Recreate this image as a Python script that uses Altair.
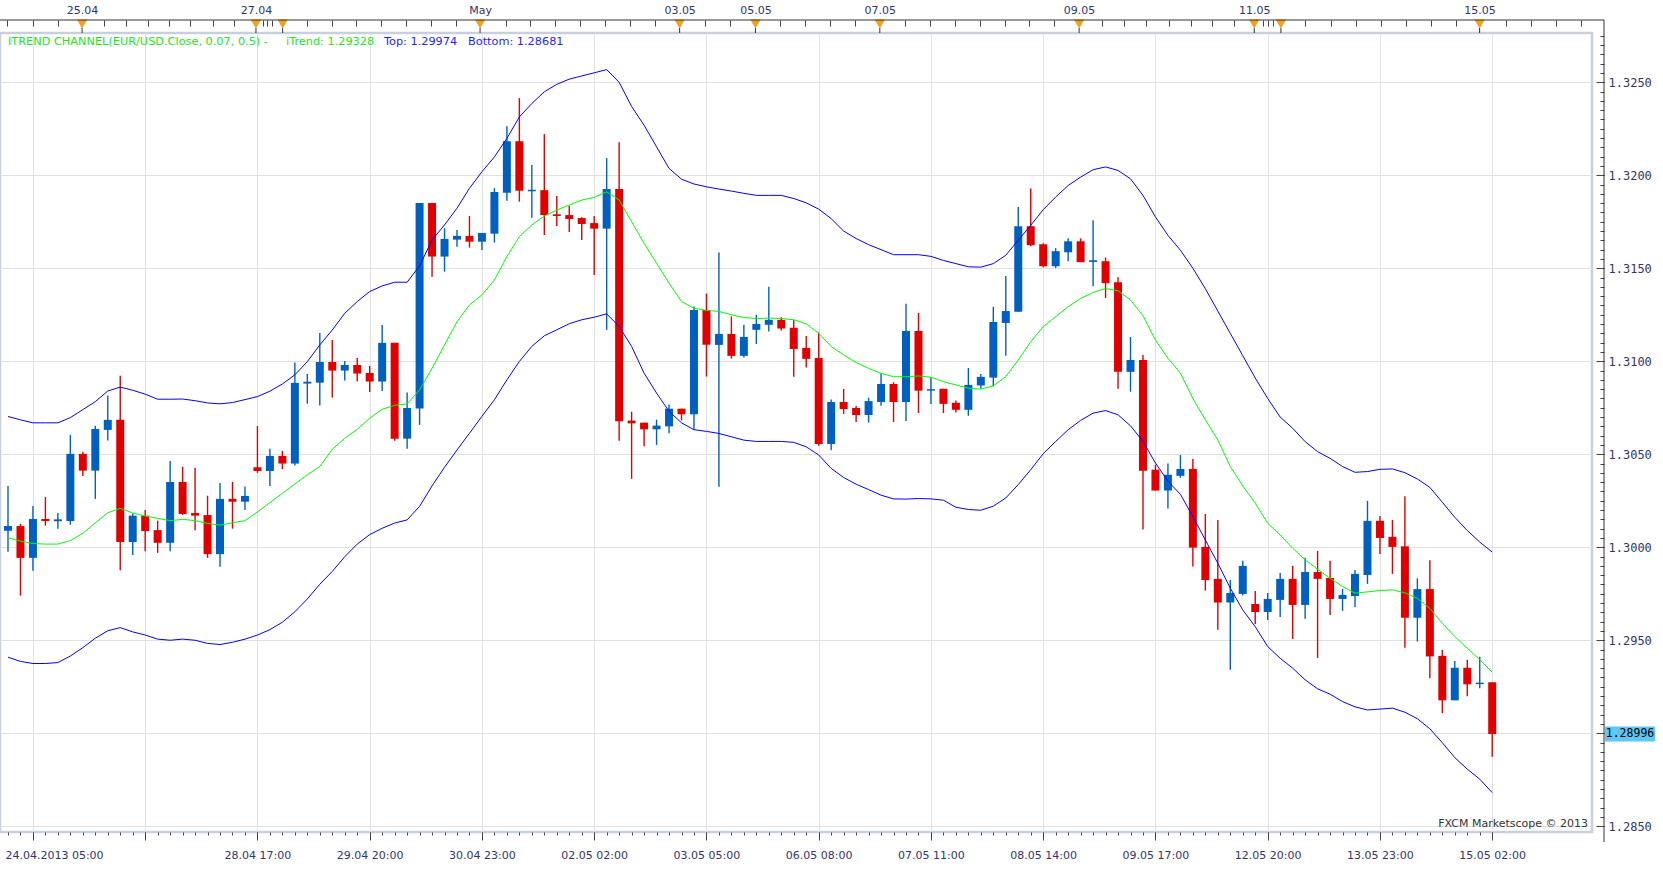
import json
import numpy as np
import pandas as pd
import altair as alt

# ---------------- data ----------------
opens = [1.30089, 1.30114, 1.29943, 1.30152, 1.30140, 1.30141, 1.30502, 1.30412, 1.30631, 1.30685,
         1.30028, 1.30170, 1.30092, 1.30024, 1.30351, 1.30184, 1.30173, 1.29963, 1.30260, 1.30245,
         1.30430, 1.30410, 1.30491, 1.30450, 1.30880, 1.30885, 1.30996, 1.30950, 1.30980, 1.30937,
         1.30891, 1.31099, 1.30584, 1.30746, 1.31851, 1.31563, 1.31654, 1.31674, 1.31643, 1.31686,
         1.31906, 1.32183, 1.31914, 1.31920, 1.31790, 1.31786, 1.31770, 1.31743, 1.31713, 1.31926,
         1.30681, 1.30670, 1.30634, 1.30650, 1.30745, 1.30715, 1.31276, 1.31088, 1.31147, 1.31029,
         1.31169, 1.31196, 1.31223, 1.31180, 1.31072, 1.31018, 1.30555, 1.30781, 1.30749, 1.30711,
         1.30781, 1.30878, 1.30781, 1.31163, 1.30842, 1.30852, 1.30777, 1.30739, 1.30870, 1.30912,
         1.31206, 1.31266, 1.31726, 1.31629, 1.31511, 1.31586, 1.31645, 1.31534, 1.31538, 1.31425,
         1.30943, 1.31007, 1.30417, 1.30305, 1.30384, 1.30421, 1.30002, 1.29830, 1.29703, 1.29749,
         1.29695, 1.29652, 1.29717, 1.29830, 1.29690, 1.29867, 1.29835, 1.29722, 1.29738, 1.29851,
         1.30142, 1.30056, 1.30005, 1.29621, 1.29775, 1.29416, 1.29177, 1.29352, 1.29264, 1.29274]
highs = [1.30329, 1.30125, 1.30222, 1.30270, 1.30184, 1.30604, 1.30513, 1.30653, 1.30816, 1.30922,
         1.30182, 1.30200, 1.30143, 1.30464, 1.30432, 1.30428, 1.30277, 1.30346, 1.30351, 1.30326,
         1.30652, 1.30529, 1.30518, 1.30993, 1.30932, 1.31152, 1.31115, 1.31002, 1.31018, 1.30975,
         1.31195, 1.31099, 1.30832, 1.31851, 1.31851, 1.31715, 1.31706, 1.31781, 1.31690, 1.31931,
         1.32264, 1.32415, 1.32055, 1.32221, 1.31888, 1.31835, 1.31775, 1.31781, 1.32092, 1.32178,
         1.30729, 1.30670, 1.30686, 1.30767, 1.30745, 1.31294, 1.31364, 1.31585, 1.31241, 1.31196,
         1.31250, 1.31400, 1.31237, 1.31223, 1.31136, 1.31154, 1.30795, 1.30851, 1.30760, 1.30804,
         1.30935, 1.30887, 1.31309, 1.31260, 1.30914, 1.30852, 1.30789, 1.30964, 1.30932, 1.31293,
         1.31458, 1.31829, 1.31929, 1.31634, 1.31608, 1.31661, 1.31661, 1.31758, 1.31558, 1.31452,
         1.31130, 1.31034, 1.30444, 1.30450, 1.30496, 1.30475, 1.30179, 1.30147, 1.29824, 1.29927,
         1.29765, 1.29754, 1.29862, 1.29900, 1.29943, 1.29980, 1.29927, 1.29776, 1.29878, 1.30249,
         1.30168, 1.30147, 1.30274, 1.29833, 1.29930, 1.29448, 1.29389, 1.29395, 1.29411, 1.29274]
lows = [1.29976, 1.29740, 1.29873, 1.30116, 1.30100, 1.30121, 1.30383, 1.30260, 1.30574, 1.29877,
        1.29958, 1.29979, 1.29970, 1.29979, 1.30173, 1.30092, 1.29943, 1.29895, 1.30100, 1.30200,
        1.30400, 1.30330, 1.30420, 1.30440, 1.30772, 1.30762, 1.30805, 1.30896, 1.30891, 1.30835,
        1.30840, 1.30573, 1.30530, 1.30658, 1.31455, 1.31482, 1.31616, 1.31611, 1.31598, 1.31638,
        1.31863, 1.31858, 1.31772, 1.31679, 1.31727, 1.31695, 1.31652, 1.31464, 1.31169, 1.30573,
        1.30368, 1.30543, 1.30550, 1.30613, 1.30682, 1.30632, 1.30918, 1.30325, 1.31014, 1.31020,
        1.31093, 1.31160, 1.31165, 1.30917, 1.30966, 1.30546, 1.30522, 1.30716, 1.30673, 1.30670,
        1.30761, 1.30673, 1.30679, 1.30722, 1.30770, 1.30722, 1.30725, 1.30707, 1.30852, 1.30864,
        1.31030, 1.31266, 1.31618, 1.31506, 1.31501, 1.31538, 1.31533, 1.31404, 1.31340, 1.30852,
        1.30836, 1.30096, 1.30305, 1.30208, 1.30373, 1.29896, 1.29767, 1.29557, 1.29342, 1.29740,
        1.29588, 1.29609, 1.29625, 1.29507, 1.29615, 1.29405, 1.29636, 1.29658, 1.29679, 1.29803,
        1.29964, 1.29857, 1.29460, 1.29493, 1.29295, 1.29108, 1.29177, 1.29199, 1.29242, 1.28873]
closes = [1.30114, 1.29943, 1.30152, 1.30141, 1.30150, 1.30502, 1.30412, 1.30636, 1.30685, 1.30028,
          1.30170, 1.30087, 1.30024, 1.30351, 1.30179, 1.30170, 1.29963, 1.30260, 1.30245, 1.30276,
          1.30410, 1.30491, 1.30450, 1.30884, 1.30890, 1.30996, 1.30950, 1.30980, 1.30934, 1.30891,
          1.31099, 1.30584, 1.30749, 1.31851, 1.31563, 1.31658, 1.31674, 1.31643, 1.31690, 1.31910,
          1.32183, 1.31917, 1.31922, 1.31786, 1.31781, 1.31765, 1.31738, 1.31713, 1.31926, 1.30677,
          1.30666, 1.30634, 1.30654, 1.30745, 1.30715, 1.31276, 1.31089, 1.31147, 1.31029, 1.31131,
          1.31201, 1.31223, 1.31176, 1.31066, 1.31013, 1.30555, 1.30781, 1.30743, 1.30711, 1.30786,
          1.30878, 1.30781, 1.31163, 1.30842, 1.30850, 1.30771, 1.30739, 1.30873, 1.30916, 1.31211,
          1.31270, 1.31726, 1.31624, 1.31511, 1.31592, 1.31645, 1.31533, 1.31543, 1.31420, 1.30943,
          1.31007, 1.30412, 1.30305, 1.30390, 1.30421, 1.29998, 1.29824, 1.29703, 1.29754, 1.29900,
          1.29652, 1.29722, 1.29830, 1.29690, 1.29867, 1.29830, 1.29722, 1.29744, 1.29857, 1.30142,
          1.30050, 1.30002, 1.29621, 1.29775, 1.29413, 1.29177, 1.29352, 1.29263, 1.29272, 1.28996]
itrend = [1.30051, 1.30033, 1.30020, 1.30017, 1.30017, 1.30036, 1.30075, 1.30131, 1.30186, 1.30209,
          1.30184, 1.30168, 1.30155, 1.30143, 1.30150, 1.30143, 1.30128, 1.30119, 1.30132, 1.30143,
          1.30190, 1.30240, 1.30290, 1.30340, 1.30390, 1.30434, 1.30527, 1.30586, 1.30634, 1.30694,
          1.30742, 1.30763, 1.30771, 1.30846, 1.30962, 1.31088, 1.31213, 1.31303, 1.31357, 1.31437,
          1.31563, 1.31670, 1.31733, 1.31781, 1.31813, 1.31840, 1.31867, 1.31881, 1.31911, 1.31867,
          1.31750, 1.31634, 1.31527, 1.31420, 1.31321, 1.31285, 1.31273, 1.31268, 1.31250, 1.31235,
          1.31230, 1.31232, 1.31230, 1.31223, 1.31201, 1.31151, 1.31079, 1.31034, 1.30993, 1.30962,
          1.30935, 1.30917, 1.30917, 1.30921, 1.30914, 1.30890, 1.30873, 1.30855, 1.30850, 1.30868,
          1.30918, 1.31007, 1.31105, 1.31186, 1.31240, 1.31293, 1.31338, 1.31370, 1.31391, 1.31379,
          1.31329, 1.31245, 1.31114, 1.31016, 1.30936, 1.30800, 1.30685, 1.30577, 1.30434, 1.30330,
          1.30237, 1.30129, 1.30066, 1.29995, 1.29932, 1.29882, 1.29833, 1.29789, 1.29753, 1.29760,
          1.29767, 1.29771, 1.29755, 1.29725, 1.29671, 1.29591, 1.29520, 1.29457, 1.29395, 1.29328]
band_top = [1.30703, 1.30685, 1.30669, 1.30669, 1.30669, 1.30697, 1.30740, 1.30783, 1.30840, 1.30861,
            1.30844, 1.30823, 1.30796, 1.30796, 1.30797, 1.30788, 1.30776, 1.30771, 1.30778, 1.30794,
            1.30810, 1.30839, 1.30878, 1.30927, 1.30998, 1.31088, 1.31168, 1.31258, 1.31321, 1.31375,
            1.31405, 1.31425, 1.31425, 1.31513, 1.31652, 1.31733, 1.31823, 1.31930, 1.32019, 1.32099,
            1.32198, 1.32314, 1.32386, 1.32449, 1.32489, 1.32517, 1.32534, 1.32551, 1.32568, 1.32500,
            1.32370, 1.32269, 1.32153, 1.32037, 1.31979, 1.31953, 1.31938, 1.31926, 1.31915, 1.31903,
            1.31892, 1.31892, 1.31892, 1.31875, 1.31852, 1.31818, 1.31767, 1.31700, 1.31660, 1.31627,
            1.31600, 1.31573, 1.31573, 1.31573, 1.31564, 1.31542, 1.31525, 1.31508, 1.31506, 1.31525,
            1.31570, 1.31651, 1.31731, 1.31815, 1.31883, 1.31945, 1.31990, 1.32030, 1.32045, 1.32026,
            1.31981, 1.31892, 1.31776, 1.31677, 1.31597, 1.31500, 1.31390, 1.31270, 1.31150, 1.31030,
            1.30910, 1.30800, 1.30700, 1.30640, 1.30568, 1.30514, 1.30478, 1.30434, 1.30403, 1.30407,
            1.30419, 1.30421, 1.30401, 1.30367, 1.30322, 1.30242, 1.30161, 1.30090, 1.30028, 1.29974]
band_bottom = [1.29409, 1.29386, 1.29375, 1.29375, 1.29380, 1.29415, 1.29460, 1.29511, 1.29551, 1.29568,
               1.29545, 1.29528, 1.29506, 1.29500, 1.29506, 1.29500, 1.29483, 1.29477, 1.29489, 1.29506,
               1.29528, 1.29557, 1.29597, 1.29653, 1.29722, 1.29801, 1.29870, 1.29949, 1.30017, 1.30068,
               1.30102, 1.30130, 1.30147, 1.30220, 1.30330, 1.30430, 1.30523, 1.30613, 1.30704, 1.30793,
               1.30900, 1.30999, 1.31080, 1.31137, 1.31169, 1.31202, 1.31223, 1.31237, 1.31255, 1.31187,
               1.31080, 1.30936, 1.30829, 1.30731, 1.30669, 1.30632, 1.30623, 1.30612, 1.30594, 1.30576,
               1.30569, 1.30569, 1.30569, 1.30564, 1.30540, 1.30496, 1.30424, 1.30375, 1.30339, 1.30310,
               1.30280, 1.30260, 1.30259, 1.30262, 1.30260, 1.30253, 1.30215, 1.30203, 1.30199, 1.30221,
               1.30265, 1.30337, 1.30417, 1.30503, 1.30569, 1.30632, 1.30682, 1.30721, 1.30735, 1.30712,
               1.30653, 1.30569, 1.30453, 1.30355, 1.30285, 1.30165, 1.30039, 1.29914, 1.29780, 1.29663,
               1.29573, 1.29466, 1.29403, 1.29350, 1.29287, 1.29239, 1.29210, 1.29170, 1.29142, 1.29125,
               1.29130, 1.29135, 1.29113, 1.29078, 1.29024, 1.28949, 1.28869, 1.28807, 1.28753, 1.28681]

# bottom (time) axis: candle index of each gridline and its label
bottom_tick_idx = [2, 11, 20, 29, 38, 47, 56, 65, 74, 83, 92, 101, 110, 119]
bottom_tick_labels = ["24.04.2013 05:00", "", "28.04 17:00", "29.04 20:00", "30.04 23:00",
                      "02.05 02:00", "03.05 05:00", "06.05 08:00", "07.05 11:00", "08.05 14:00",
                      "09.05 17:00", "12.05 20:00", "13.05 23:00", "15.05 02:00"]

# top (calendar) axis, positions in candle-index units
top_tick_idx = [-0.10, 1.98, 3.98, 5.94, 7.73, 9.48, 11.20, 12.91, 14.61, 16.41, 18.09, 19.88,
                20.48, 20.80, 21.16, 22.02, 23.95, 25.94, 27.94, 29.93, 31.92, 33.91, 35.90, 37.85,
                39.89, 41.88, 43.87, 45.87, 47.86, 49.86, 51.85, 53.85, 55.85, 57.90, 59.93, 61.90,
                63.90, 65.90, 67.90, 69.90, 71.90, 73.90, 75.90, 77.90, 79.90, 81.90, 83.90, 85.88,
                87.75, 89.51, 91.28, 93.06, 94.81, 96.53, 98.30, 99.92, 100.60, 101.03, 101.46,
                102.06, 104.03, 106.04, 108.05, 110.05, 112.06, 114.06, 116.07, 117.99, 120.08,
                122.09, 124.10, 126.10]
top_label_idx = [5.94, 19.88, 37.85, 53.85, 59.93, 69.90, 85.88, 99.92, 117.99]
top_labels = ["25.04", "27.04", "May", "03.05", "05.05", "07.05", "09.05", "11.05", "15.05"]
event_idx = [5.94, 19.88, 22.02, 37.85, 53.85, 59.93, 69.90, 85.88, 99.92, 102.06, 117.99]

price_major = [1.2850, 1.2900, 1.2950, 1.3000, 1.3050, 1.3100, 1.3150, 1.3200, 1.3250]
price_minor = [round(1.2850 + 0.0005 * k, 4) for k in range(86)]

legend_parts = ["ITREND CHANNEL(EUR/USD.Close, 0.07, 0.5) -", "iTrend: 1.29328",
                "Top: 1.29974", "Bottom: 1.28681"]
watermark = "FXCM Marketscope \u00a9 2013"
last_price = 1.28996

# ---------------- styling ----------------
FONT = "DejaVu Sans"
MONO = "DejaVu Sans Mono"
AXIS_TXT = "#33336b"
UP = "#0060C0"
DOWN = "#E00000"
GRID = "#e1e1e1"
W, H = 1592, 799
AX_X = 1604          # right axis line (px, plot coords)
TOP_AX_Y = -13       # top axis line (px, plot coords)
BOT_AX_Y = H + 10

df = pd.DataFrame(dict(i=list(range(len(opens))), open=opens, high=highs, low=lows,
                       close=closes, itrend=itrend, top=band_top, bottom=band_bottom))
df["dir"] = np.where(df["close"] > df["open"], "up", "down")

xs = alt.Scale(domain=[-0.24, 126.6], nice=False, zero=False)
ys = alt.Scale(domain=[1.28469, 1.32765], nice=False, zero=False)
col = alt.Color("dir:N", scale=alt.Scale(domain=["up", "down"], range=[UP, DOWN]), legend=None)

bottom_expr = json.dumps(bottom_tick_labels) + "[round((datum.value - 2) / 9)]"
first_test = "datum.value < 5"
bottom_axis = alt.Axis(orient="bottom", values=bottom_tick_idx, labelExpr=bottom_expr, title=None,
                       grid=True, gridColor=GRID, gridWidth=1, domain=False,
                       tickSize=8, tickColor="#444444", labelPadding=9,
                       labelFont=FONT, labelFontSize=11, labelColor=AXIS_TXT,
                       labelOverlap=False, labelFlush=False, labelBound=False,
                       labelAlign={"condition": {"test": first_test, "value": "left"}, "value": "center"},
                       labelOffset={"condition": {"test": first_test, "value": -28}, "value": 0})
bottom_minor = alt.Axis(orient="bottom", values=list(range(len(opens))), labels=False, title=None,
                        grid=False, domain=False, tickSize=3, tickColor="#444444")

right_expr = f"abs(datum.value - {last_price}) < 0.0004 ? '' : format(datum.value, '.4f')"
right_axis = alt.Axis(orient="right", values=price_major, labelExpr=right_expr, title=None,
                      grid=True, gridColor=GRID, gridWidth=1, domain=False,
                      offset=AX_X - W - 8, tickSize=8, tickColor="#444444", labelPadding=4,
                      labelFont=MONO, labelFontSize=12, labelColor=AXIS_TXT,
                      labelOverlap=False, labelFlush=False, labelBound=False)
right_minor = alt.Axis(orient="right", values=price_minor, labels=False, title=None, grid=False,
                       domain=False, offset=AX_X - W - 4, tickSize=4, tickColor="#444444")

top_li = json.dumps(top_label_idx)
top_expr = f"indexof({top_li}, datum.value) >= 0 ? {json.dumps(top_labels)}[indexof({top_li}, datum.value)] : ''"
top_axis = alt.Axis(orient="top", values=top_tick_idx, labelExpr=top_expr, title=None, grid=False,
                    domain=False, offset=-TOP_AX_Y - 6, tickSize=6, tickColor="#444444",
                    labelPadding=5, labelFont=FONT, labelFontSize=11, labelColor=AXIS_TXT,
                    labelOverlap=False, labelFlush=False, labelBound=False)

wicks = alt.Chart(df).mark_rule(strokeWidth=1.4).encode(
    x=alt.X("i:Q", scale=xs, axis=bottom_axis),
    y=alt.Y("low:Q", scale=ys, axis=right_axis), y2="high:Q", color=col)
bodies = alt.Chart(df).mark_bar(size=8).encode(
    x=alt.X("i:Q", scale=xs, axis=bottom_minor),
    y=alt.Y("open:Q", scale=ys, axis=right_minor), y2="close:Q", color=col)
line_top = alt.Chart(df).mark_line(color="#0000FF", strokeWidth=1).encode(
    x=alt.X("i:Q", scale=xs, axis=top_axis), y=alt.Y("top:Q", scale=ys, axis=None))
line_bot = alt.Chart(df).mark_line(color="#0000FF", strokeWidth=1).encode(
    x=alt.X("i:Q", scale=xs, axis=None), y=alt.Y("bottom:Q", scale=ys, axis=None))
line_trend = alt.Chart(df).mark_line(color="#00FF00", strokeWidth=1).encode(
    x=alt.X("i:Q", scale=xs, axis=None), y=alt.Y("itrend:Q", scale=ys, axis=None))

ev = pd.DataFrame({"i": event_idx})
ev_tri = alt.Chart(ev).mark_point(shape="triangle-down", filled=True, color="#F5A01A", opacity=1,
                                  size=110).encode(x=alt.X("i:Q", scale=xs, axis=None), y=alt.value(TOP_AX_Y + 4))
ev_tick = alt.Chart(ev).mark_rule(color="#333333", strokeWidth=1).encode(
    x=alt.X("i:Q", scale=xs, axis=None), y=alt.value(TOP_AX_Y + 8), y2=alt.value(0))

one = pd.DataFrame({"k": [0]})
top_rule = alt.Chart(one).mark_rule(color="#333333", strokeWidth=1).encode(
    x=alt.value(0), x2=alt.value(AX_X), y=alt.value(TOP_AX_Y))
right_rule = alt.Chart(one).mark_rule(color="#333333", strokeWidth=1).encode(
    x=alt.value(AX_X), y=alt.value(TOP_AX_Y), y2=alt.value(BOT_AX_Y))

leg_colors = ["#22E622", "#22E622", "#1F1FFF", "#1F1FFF"]
leg_x = [8, 286, 384, 468]
leg_layers = []
for txt, c, xp in zip(legend_parts, leg_colors, leg_x):
    leg_layers.append(alt.Chart(pd.DataFrame({"t": [txt]})).mark_text(
        align="left", baseline="middle", color=c, font=FONT, fontSize=11.3).encode(
        x=alt.value(xp), y=alt.value(9), text="t:N"))
wm = alt.Chart(pd.DataFrame({"t": [watermark]})).mark_text(
    align="right", baseline="middle", color="#333333", font=FONT, fontSize=11).encode(
    x=alt.value(W - 4), y=alt.value(H - 8), text="t:N")

tag_df = pd.DataFrame({"p": [last_price], "label": [f"{last_price:.5f}"]})
tag_bg = alt.Chart(tag_df).mark_point(shape="M-1,-0.3L1,-0.3L1,0.3L-1,0.3Z", filled=True,
                                      color="#5BC8F5", opacity=1, size=50 * 50).encode(
    x=alt.value(AX_X + 26), y=alt.Y("p:Q", scale=ys, axis=None))
tag_txt = alt.Chart(tag_df).mark_text(align="center", baseline="middle", color="#000000",
                                      font=MONO, fontSize=11.5).encode(
    x=alt.value(AX_X + 26), y=alt.Y("p:Q", scale=ys, axis=None), text="label:N")

chart = alt.layer(
    wicks, bodies, line_top, line_bot, line_trend, ev_tri, ev_tick, top_rule, right_rule,
    *leg_layers, wm, tag_bg, tag_txt
).resolve_axis(x="independent", y="independent").properties(
    width=W, height=H,
    padding={"left": 0, "top": 33, "right": 1663 - W, "bottom": 870 - 33 - H},
    autosize=alt.AutoSizeParams(type="none"),
    background="white",
).configure_view(stroke="#C8D0DC", strokeWidth=2.5)

chart.save("out.html", embed_options={"renderer": "svg", "actions": False})
